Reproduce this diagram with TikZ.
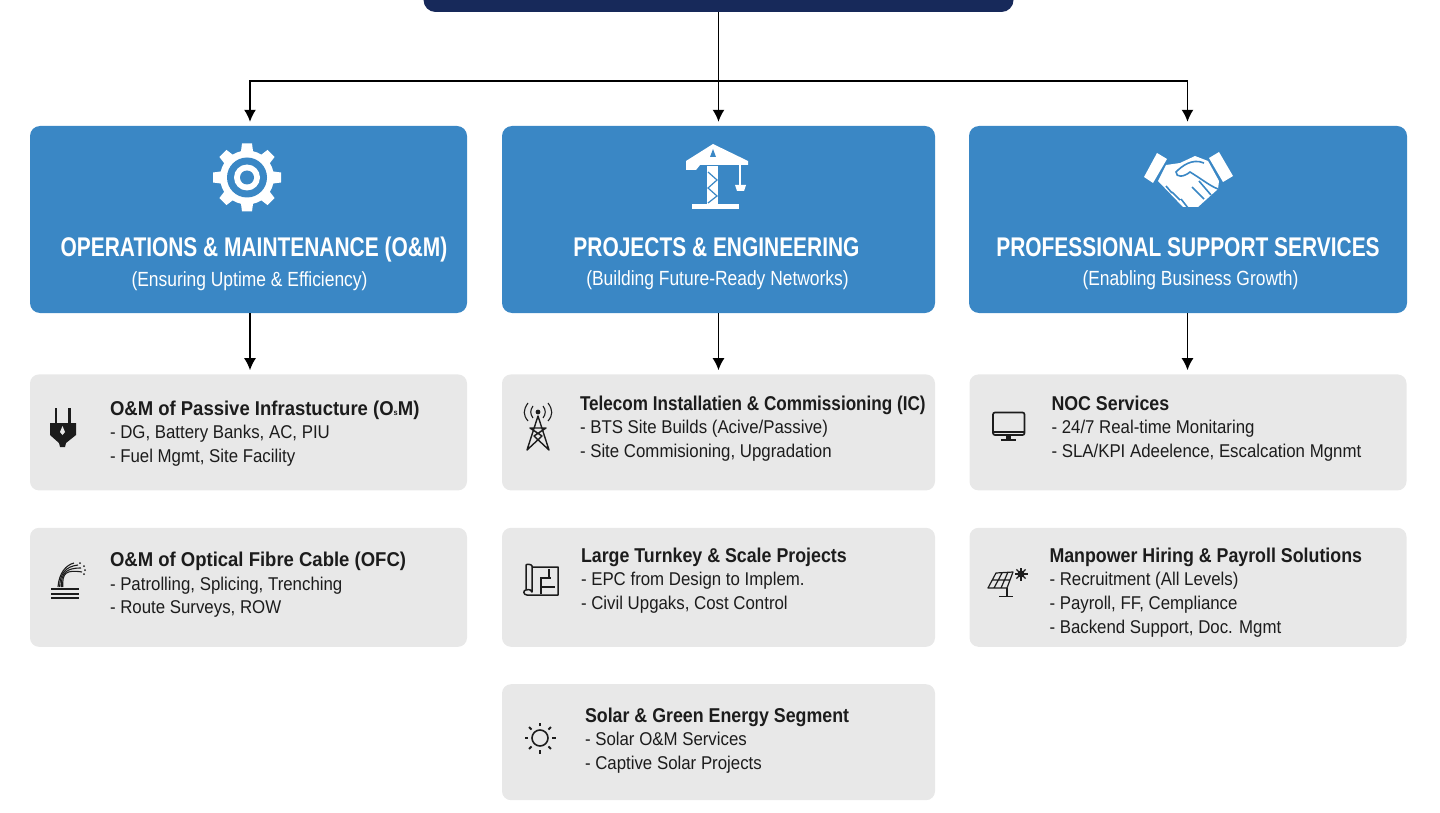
\documentclass[tikz,border=0pt]{standalone}
\usepackage{fontspec}
\setmainfont[FakeStretch=0.91]{Liberation Sans}
\newfontfamily\fonteCab[FakeStretch=0.775]{Liberation Sans}
\newfontfamily\fonteSub[FakeStretch=0.85]{Liberation Sans}
\newfontfamily\fonteTit[FakeStretch=0.89]{Liberation Sans}
\newfontfamily\fonteTitLarga[FakeStretch=0.925]{Liberation Sans}
\newfontfamily\fonteTitEstreita[FakeStretch=0.855]{Liberation Sans}
\usepackage{xcolor}
\usetikzlibrary{arrows.meta,positioning}
\definecolor{azulEscuro}{HTML}{17295A}
\definecolor{azulCab}{HTML}{3A87C5}
\definecolor{cinzaCartao}{HTML}{E8E8E8}
\definecolor{tinta}{HTML}{1C1C1C}
\newcommand{\tituloCartao}[2][\fonteTit]{{#1\fontsize{20}{24}\selectfont\bfseries #2}}
\tikzset{
    topo/.style={
        rectangle,
        fill=azulEscuro,
        rounded corners=12pt,
        inner sep=0pt,
        minimum width=590pt,
        minimum height=60pt
    },
    cabecalho/.style={
        rectangle,
        fill=azulCab,
        rounded corners=10pt,
        inner sep=0pt,
        minimum height=187pt
    },
    cartao/.style={
        rectangle,
        fill=cinzaCartao,
        rounded corners=9pt,
        inner sep=0pt
    },
    tituloCab/.style={anchor=base, text=white, inner sep=0pt, font=\fonteCab\bfseries\fontsize{27}{30}\selectfont},
    subtituloCab/.style={anchor=base, text=white, inner sep=0pt, font=\fonteSub\fontsize{20.5}{24}\selectfont},
    textoCartao/.style={align=left, inner sep=0pt, text=tinta, font=\fontsize{18.5}{23.6}\selectfont},
    fluxo/.style={-{Latex[length=12pt,width=12pt]}, line width=1.5pt, black, shorten >=4pt},
    traco/.style={line width=1.5pt, black},
    iconeCab/.style={fill=white, draw=none},
    iconeLinha/.style={draw=tinta, line width=1.5pt, fill=none},
    iconeCheio/.style={fill=tinta, draw=none}
}
\begin{document}
\begin{tikzpicture}[x=1pt, y=-1pt]
    \useasboundingbox (0,0) rectangle (1440,813);

    \node[topo] (direcao) at (718.5,-18) {};

    \node[cabecalho, minimum width=437pt] (cabOM) at (248.5,219.5) {};
    \node[cabecalho, minimum width=433pt] (cabProj) at (718.5,219.5) {};
    \node[cabecalho, minimum width=438pt] (cabSup) at (1188,219.5) {};

    \node[tituloCab] (tituloOM) at ([shift={(5.5pt,-36.5pt)}]cabOM.center) {OPERATIONS \& MAINTENANCE (O\&M)};
    \node[subtituloCab] (subOM) at ([shift={(1pt,-67pt)}]cabOM.center) {(Ensuring Uptime \& Efficiency)};
    \node[tituloCab] (tituloProj) at ([shift={(-2pt,-36.5pt)}]cabProj.center) {PROJECTS \& ENGINEERING};
    \node[subtituloCab] (subProj) at ([shift={(-1pt,-66pt)}]cabProj.center) {(Building Future-Ready Networks)};
    \node[tituloCab] (tituloSup) at ([shift={(0pt,-36.5pt)}]cabSup.center) {PROFESSIONAL SUPPORT SERVICES};
    \node[subtituloCab] (subSup) at ([shift={(2.5pt,-66pt)}]cabSup.center) {(Enabling Business Growth)};

    \node[cartao, minimum width=437pt, minimum height=116pt, below=61pt of cabOM] (passiva) {};
    \node[cartao, minimum width=437pt, minimum height=119pt, below=37pt of passiva] (fibra) {};
    \node[cartao, minimum width=433pt, minimum height=116pt, below=61pt of cabProj] (telecom) {};
    \node[cartao, minimum width=433pt, minimum height=119pt, below=37pt of telecom] (turnkey) {};
    \node[cartao, minimum width=433pt, minimum height=116pt, below=37pt of turnkey] (solar) {};
    \node[cartao, minimum width=437pt, minimum height=116pt, below=61pt of cabSup] (noc) {};
    \node[cartao, minimum width=437pt, minimum height=119pt, below=37pt of noc] (pessoal) {};

    \node[textoCartao, below right=26.5pt and 80pt of passiva.north west] (txtPassiva) {\tituloCartao[\fonteTitLarga]{O\&M of Passive Infrastucture (O{\footnotesize s}M)}\\- DG, Battery Banks, AC, PIU\\- Fuel Mgmt, Site Facility};
    \node[textoCartao, below right=24.5pt and 80pt of fibra.north west] (txtFibra) {\tituloCartao[\fonteTitLarga]{O\&M of Optical Fibre Cable (OFC)}\\- Patrolling, Splicing, Trenching\\- Route Surveys, ROW};
    \node[textoCartao, below right=21.5pt and 78pt of telecom.north west] (txtTelecom) {\tituloCartao[\fonteTitEstreita]{Telecom Installatien \& Commissioning (IC)}\\- BTS Site Builds (Acive/Passive)\\- Site Commisioning, Upgradation};
    \node[textoCartao, below right=20pt and 79pt of turnkey.north west] (txtTurnkey) {\tituloCartao{Large Turnkey \& Scale Projects}\\- EPC from Design to Implem.\\- Civil Upgaks, Cost Control};
    \node[textoCartao, below right=23.5pt and 83pt of solar.north west] (txtSolar) {\tituloCartao{Solar \& Green Energy Segment}\\- Solar O\&M Services\\- Captive Solar Projects};
    \node[textoCartao, below right=21.5pt and 82pt of noc.north west] (txtNoc) {\tituloCartao{NOC Services}\\- 24/7 Real-time Monitaring\\- SLA/KPI Adeelence, Escalcation Mgnmt};
    \node[textoCartao, below right=20pt and 80pt of pessoal.north west] (txtPessoal) {\tituloCartao{Manpower Hiring \& Payroll Solutions}\\- Recruitment (All Levels)\\- Payroll, FF, Cempliance\\- Backend Support, Doc. Mgmt};

    \coordinate (barra) at (718.5,81);
    \draw[traco] (direcao.south) -- (barra);
    \draw[fluxo] (barra) -- (cabProj.north);
    \draw[fluxo] (barra) -| ([xshift=1.5pt]cabOM.north);
    \draw[fluxo] (barra) -| ([xshift=-0.5pt]cabSup.north);
    \draw[fluxo] ([xshift=1.5pt]cabOM.south) -- ([xshift=1.5pt]passiva.north);
    \draw[fluxo] (cabProj.south) -- (telecom.north);
    \draw[fluxo] ([xshift=-0.5pt]cabSup.south) -- ([xshift=-0.5pt]noc.north);

    \foreach \a in {0,45,...,315}
        \fill[white, rotate around={\a:(247,177.5)}] (242,143.5) -- (252,143.5) -- (253.5,155) -- (240.5,155) -- cycle;
    \fill[white] (247,177.5) circle (27);
    \fill[azulCab] (247,177.5) circle (20);
    \fill[white] (247,177.5) circle (13);
    \fill[azulCab] (247,177.5) circle (7);

    \fill[iconeCab] (692,204) rectangle (739,209.5);
    \fill[iconeCab] (707,166) rectangle (718,205);
    \fill[iconeCab] (713,144) -- (748,161) -- (748,165) -- (700,165) -- (696,170) -- (686,170) -- (686,161) -- cycle;
    \fill[azulCab] (713,149) -- (716,157) -- (710,157) -- cycle;
    \draw[azulCab, line width=1.2pt] (708,172) -- (717,180) -- (708,188) -- (717,196) -- (708,203);
    \draw[white, line width=1.6pt] (740,165) -- (740,186);
    \fill[iconeCab] (735,185) -- (746,185) -- (744,191) -- (737,191) -- cycle;

    \fill[iconeCab] (1157,153) -- (1167,159) -- (1153,183) -- (1144,177) -- cycle;
    \fill[iconeCab] (1219,152) -- (1233,176) -- (1223,182) -- (1209,158) -- cycle;
    \fill[iconeCab] (1166,165) -- (1180,163) -- (1195,156) -- (1208,161) -- (1219,181) -- (1218,189) -- (1198,207) -- (1183,207) -- (1158,181) -- cycle;
    \draw[azulCab, line width=1.6pt] (1204,163) .. controls (1192,158) and (1182,166) .. (1176,172) .. controls (1176,178) and (1184,177) .. (1190,172) .. controls (1200,178) and (1210,186) .. (1218,189);
    \draw[azulCab, line width=1.6pt] (1166,186) -- (1172,193) (1172,192) -- (1180,200) (1181,199) -- (1188,208) (1192,187) -- (1204,199) (1199,181) -- (1211,195);

    \fill[iconeCheio] (54.5,408) rectangle (57,424);
    \fill[iconeCheio] (68,408) rectangle (70.5,424);
    \fill[iconeCheio] (50,423) -- (76,423) -- (76,435) -- (66,443) -- (65,447) -- (60,447) -- (59,443) -- (50,435) -- cycle;
    \fill[cinzaCartao] (62.5,426) -- (65,432) -- (62.5,435) -- (60,432) -- cycle;

    \fill[iconeCheio] (51,588) rectangle (79,590);
    \fill[iconeCheio] (51,592.5) rectangle (79,594.5);
    \fill[iconeCheio] (51,597) rectangle (79,599);
    \foreach \ya/\xb/\yb in {0/74/563,1/78/565,2/81/568,3/82/572}
        \draw[tinta, line width=1.1pt] (58+\ya*1.6,587) .. controls (59+\ya,573) and (66,565+\ya*1.5) .. (\xb,\yb);
    \fill[iconeCheio] (80,563) circle (1) (84,566) circle (1) (85,570) circle (1) (84,574) circle (1);

    \draw[iconeLinha, line width=1.4pt, line join=round] (527,450) -- (538,416) -- (549,450) -- (534,436) -- (546,428) -- (530,428) -- (542,436) -- cycle;
    \fill[iconeCheio] (538,412) circle (2.4);
    \draw[iconeLinha, line width=1.1pt] (533,406) .. controls (530,410) and (530,414) .. (533,418) (543,406) .. controls (546,410) and (546,414) .. (543,418);
    \draw[iconeLinha, line width=1.1pt] (528,403) .. controls (523,410) and (523,415) .. (528,421) (548,403) .. controls (553,410) and (553,415) .. (548,421);

    \draw[iconeLinha, line join=round] (526,590) -- (526,565) .. controls (526,564) and (532,564) .. (532,566) -- (532,567) -- (558,567) -- (558,595) -- (527,595) .. controls (523,595) and (523,590) .. (526,590) .. controls (529,589) and (532,590) .. (532,592) -- (532,566);
    \draw[tinta, line width=1.1pt] (541,594) -- (541,578) -- (551,578) (541,587) -- (555,587) (549,578) -- (549,569);

    \draw[iconeLinha, line width=1.7pt, rounded corners=2pt] (993,412.5) rectangle (1024.5,435);
    \draw[tinta, line width=1.7pt] (993,432) -- (1024.5,432);
    \fill[iconeCheio] (1006,436) rectangle (1011,439);
    \fill[iconeCheio] (1001,438.5) rectangle (1016,440.5);

    \draw[iconeLinha, line width=1.2pt, line join=round] (996,573) -- (1013,572) -- (1007,588) -- (988,588) -- cycle (1002,573) -- (994,588) (1008,572) -- (1001,588) (992,580) -- (1010,580);
    \draw[tinta, line width=1.6pt] (1007,588) -- (1007,596) (999,596.5) -- (1013,596.5);
    \foreach \a in {0,45,...,315}
        \draw[tinta, line width=1.2pt] (1021,574) -- ++(\a:6.5);
    \fill[iconeCheio] (1021,574) circle (3.6);

    \draw[iconeLinha, line width=1.6pt] (540,738) circle (8);
    \foreach \a in {0,45,...,315}
        \draw[tinta, line width=1.8pt] ([shift={(\a:12)}]540,738) -- ([shift={(\a:15.5)}]540,738);
\end{tikzpicture}
\end{document}
